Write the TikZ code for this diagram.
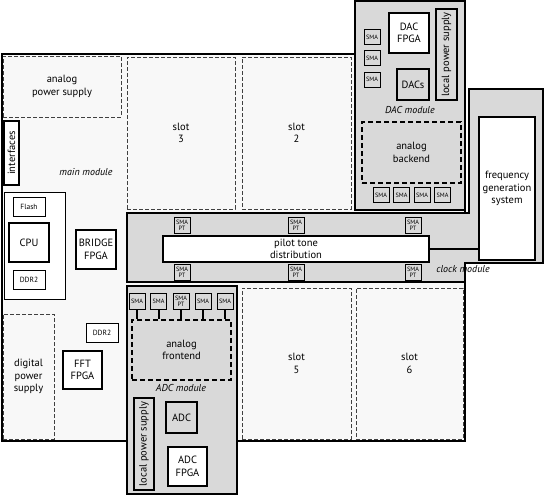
\documentclass[tikz,border=0pt]{standalone}
\usepackage{fontspec}
\setmainfont{PT Sans}
\definecolor{modgray}{HTML}{D9D9D9}
\definecolor{mainfill}{HTML}{F8F8F8}
\begin{document}
\begin{tikzpicture}[
  x=1pt, y=-1pt,
  every node/.style={inner sep=0pt, align=center, font=\fontsize{10.5}{12.5}\selectfont},
  module/.style={draw, line width=2.4pt, fill=modgray},
  thinbox/.style={draw, line width=0.8pt, fill=white, font=\fontsize{7.5}{8}\selectfont},
  heavybox/.style={draw, line width=2.2pt, fill=white},
  smabox/.style={draw, line width=1pt, fill=modgray, minimum width=16, minimum height=15,
    font=\fontsize{6.2}{5.8}\selectfont},
  slotbox/.style={draw=black!75, line width=0.8pt, dash pattern=on 4pt off 2pt},
  analogbox/.style={draw, line width=2pt, dash pattern=on 5pt off 3pt},
  modlabel/.style={font=\itshape\fontsize{10}{11}\selectfont}
]
  \useasboundingbox (0,0) rectangle (545,496);

  % main module
  \node[draw, line width=2.4pt, fill=mainfill, minimum width=463, minimum height=387] (main) at (233.5,247.5) {};
  \node[slotbox, minimum width=118, minimum height=61] (apsu) at (62,86.5) {analog\\power supply};
  \node[slotbox, minimum width=108, minimum height=152] (slot3) at (181,133) {slot\\3};
  \node[slotbox, minimum width=109, minimum height=152] (slot2) at (296.5,133) {slot\\2};
  \node[slotbox, minimum width=109, minimum height=151] (slot5) at (296.5,363.5) {slot\\5};
  \node[slotbox, minimum width=107, minimum height=151] (slot6) at (409.5,363.5) {slot\\6};
  \node[slotbox, minimum width=51, minimum height=125] (dpsu) at (28.5,376.5) {digital\\power\\supply};
  \node[draw, line width=1.2pt, fill=white, minimum width=64, minimum height=15, rotate=90] (intf) at (11.5,153) {interfaces};
  \node[modlabel] (mainlbl) at (86,172) {main module};
  \node[draw, line width=0.6pt, fill=white, minimum width=61, minimum height=107] (cpugrp) at (34.5,245.5) {};
  \node[thinbox, minimum width=32, minimum height=19] (flash) at (29,206.5) {Flash};
  \node[heavybox, minimum width=40, minimum height=39] (cpu) at (29,242.5) {CPU};
  \node[thinbox, minimum width=32, minimum height=19] (ddra) at (29,279.5) {DDR2};
  \node[heavybox, minimum width=40, minimum height=39] (bridge) at (96,249.5) {BRIDGE\\FPGA};
  \node[thinbox, minimum width=32, minimum height=19] (ddrb) at (102,332.5) {DDR2};
  \node[heavybox, minimum width=39, minimum height=38] (fft) at (82.5,370) {FFT\\FPGA};

  % DAC module
  \node[module, minimum width=110, minimum height=209] (dac) at (410,105.5) {};
  \node[heavybox, minimum width=40, minimum height=40] (dacfpga) at (409,33) {DAC\\FPGA};
  \node[heavybox, fill=modgray, minimum width=91, minimum height=21, rotate=90] (dlps) at (446.5,54.5) {local power supply};
  \node[smabox] (dsma1) at (372,37) {SMA};
  \node[smabox] (dsma2) at (372,58) {SMA};
  \node[smabox] (dsma3) at (372,79.5) {SMA};
  \node[heavybox, fill=modgray, minimum width=32, minimum height=31] (dacs) at (413,84.5) {DACs};
  \node[modlabel] (daclbl) at (410,110) {DAC module};
  \node[analogbox, minimum width=99, minimum height=61] (backend) at (411.5,152.5) {analog\\backend};
  \foreach \i/\x in {1/381,2/401.5,3/422,4/442.5}
    \node[smabox] (bsma\i) at (\x,195) {SMA};

  % clock module
  \draw[line width=2.4pt, fill=modgray] (127,213) -- (469,213) -- (469,89) -- (543,89)
    -- (543,263) -- (465,263) -- (465,282) -- (127,282) -- cycle;
  \node[heavybox, minimum width=56, minimum height=143] (freq) at (507,188.5) {frequency\\generation\\system};
  \node[heavybox, minimum width=266, minimum height=26] (pilot) at (296,249) {pilot tone\\distribution};
  \foreach \i/\x in {1/182,2/296,3/413} {
    \node[smabox, minimum height=16] (ptup\i) at (\x,225) {SMA\\PT};
    \node[smabox, minimum height=16] (ptdn\i) at (\x,272.5) {SMA\\PT};
  }
  \node[modlabel] (clklbl) at (463,269.5) {clock module};
  \draw[line width=1.2pt] (pilot.east) -- (pilot.east -| freq.west);

  % ADC module
  \node[module, minimum width=110, minimum height=208] (adcmod) at (182,390) {};
  \node[analogbox, minimum width=99, minimum height=60] (frontend) at (181.5,350) {analog\\frontend};
  \foreach \i/\x/\t in {1/137/SMA,2/158.5/SMA,3/181/{SMA\\PT},4/203/SMA,5/225/SMA} {
    \node[smabox, minimum height=16] (asma\i) at (\x,301) {\t};
    \draw[line width=2pt] (asma\i.south) -- (asma\i.south |- frontend.north);
  }
  \node[modlabel] (adclbl) at (181,388) {ADC module};
  \node[heavybox, fill=modgray, minimum width=92, minimum height=20, rotate=90] (alps) at (144,444) {local power supply};
  \node[heavybox, fill=modgray, minimum width=31, minimum height=31] (adc) at (181.5,417.5) {ADC};
  \node[heavybox, minimum width=39, minimum height=39] (adcfpga) at (187.5,466.5) {ADC\\FPGA};
\end{tikzpicture}
\end{document}
